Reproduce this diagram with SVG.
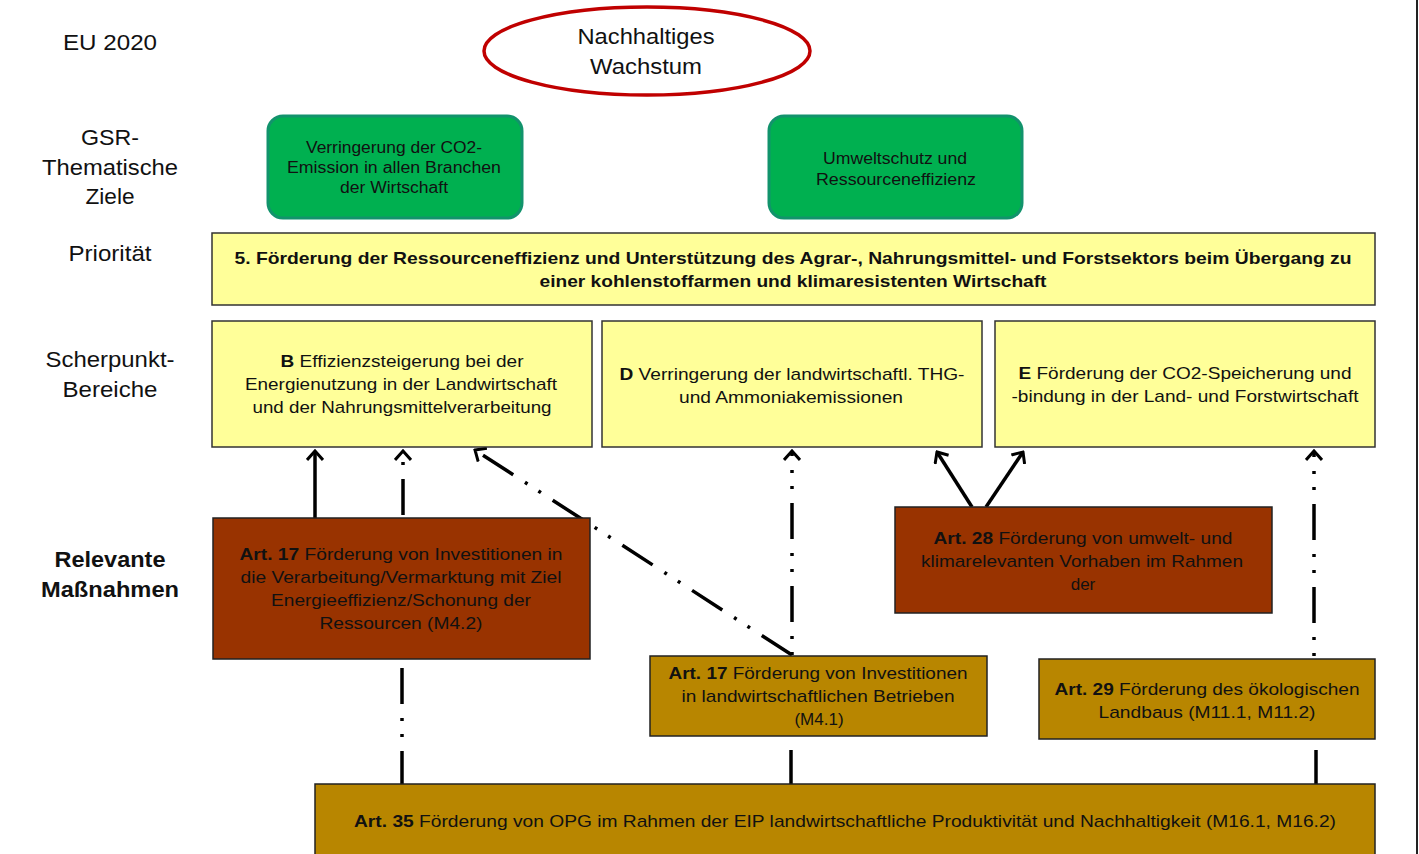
<svg xmlns="http://www.w3.org/2000/svg" width="1419" height="854" viewBox="0 0 1419 854">
<defs>
<style>
text{font-family:"Liberation Sans",Arial,sans-serif;fill:#111;text-anchor:middle}
.lbl{font-size:22px}
.lblb{font-size:22px;font-weight:bold}
.g{font-size:16px}
.t{font-size:17px}
.b{font-weight:bold}
.green{fill:#00b050;stroke:#12936c;stroke-width:3}
.yel{fill:#ffff99;stroke:#333;stroke-width:1.5}
.brown{fill:#993300;stroke:#222;stroke-width:1.5}
.gold{fill:#b88600;stroke:#222;stroke-width:1.5}
.c{fill:none;stroke:#000;stroke-width:3.5}
.dd{stroke-dasharray:36 14 3 13 3 14}
</style>
<marker id="ah" viewBox="0 0 12 18" refX="10" refY="9" markerWidth="12" markerHeight="18" markerUnits="userSpaceOnUse" orient="auto">
<path d="M1,1 L10,9 L1,17" fill="none" stroke="#000" stroke-width="3"/>
</marker>
</defs>
<rect width="1419" height="854" fill="#fff"/>
<line x1="1417" y1="0" x2="1417" y2="854" stroke="#222" stroke-width="2"/>

<g id="labels">
<text class="lbl" x="110" y="50" textLength="94" lengthAdjust="spacingAndGlyphs">EU  2020</text>
<text class="lbl" x="110" y="145" textLength="58" lengthAdjust="spacingAndGlyphs">GSR-</text>
<text class="lbl" x="110" y="175" textLength="136" lengthAdjust="spacingAndGlyphs">Thematische</text>
<text class="lbl" x="110" y="204" textLength="49" lengthAdjust="spacingAndGlyphs">Ziele</text>
<text class="lbl" x="110" y="261" textLength="83" lengthAdjust="spacingAndGlyphs">Priorität</text>
<text class="lbl" x="110" y="367" textLength="129" lengthAdjust="spacingAndGlyphs">Scherpunkt-</text>
<text class="lbl" x="110" y="397" textLength="95" lengthAdjust="spacingAndGlyphs">Bereiche</text>
<text class="lblb" x="110" y="567" textLength="111" lengthAdjust="spacingAndGlyphs">Relevante</text>
<text class="lblb" x="110" y="597" textLength="138" lengthAdjust="spacingAndGlyphs">Maßnahmen</text>
</g>

<g id="connectors">
<line class="c" x1="315" y1="518" x2="315" y2="451" marker-end="url(#ah)"/>
<line class="c dd" x1="403" y1="518" x2="403" y2="451" marker-end="url(#ah)" stroke-dashoffset="-3"/>
<line class="c dd" x1="792" y1="655" x2="475" y2="450" marker-end="url(#ah)"/>
<line class="c dd" x1="792" y1="655" x2="792" y2="451" marker-end="url(#ah)" stroke-dashoffset="50"/>
<line class="c" x1="972" y1="507" x2="937" y2="452" marker-end="url(#ah)"/>
<line class="c" x1="986" y1="507" x2="1023" y2="452" marker-end="url(#ah)"/>
<line class="c dd" x1="1314" y1="656" x2="1314" y2="451" marker-end="url(#ah)" stroke-dashoffset="50"/>
<line class="c dd" x1="402" y1="668" x2="402" y2="785"/>
<line class="c" x1="791" y1="750" x2="791" y2="785"/>
<line class="c" x1="1316" y1="750" x2="1316" y2="785"/>
</g>

<g id="eu2020">
<ellipse cx="647" cy="51" rx="163" ry="44" fill="#fff" stroke="#c00000" stroke-width="3.5"/>
<text x="646" y="44" style="font-size:22px" textLength="137" lengthAdjust="spacingAndGlyphs">Nachhaltiges</text>
<text x="646" y="74" style="font-size:22px" textLength="112" lengthAdjust="spacingAndGlyphs">Wachstum</text>
</g>

<g id="ziel1">
<rect class="green" x="268" y="116" width="254" height="102" rx="15"/>
<text class="g" x="394" y="153" textLength="176" lengthAdjust="spacingAndGlyphs">Verringerung der CO2-</text>
<text class="g" x="394" y="173" textLength="214" lengthAdjust="spacingAndGlyphs">Emission in allen Branchen</text>
<text class="g" x="394" y="193" textLength="108" lengthAdjust="spacingAndGlyphs">der Wirtschaft</text>
</g>
<g id="ziel2">
<rect class="green" x="769" y="116" width="253" height="102" rx="15"/>
<text class="g" x="895" y="164" textLength="144" lengthAdjust="spacingAndGlyphs">Umweltschutz und</text>
<text class="g" x="896" y="185" textLength="160" lengthAdjust="spacingAndGlyphs">Ressourceneffizienz</text>
</g>

<g id="prioritaet">
<rect class="yel" x="212" y="233" width="1163" height="72"/>
<text class="t b" x="793" y="264" textLength="1117" lengthAdjust="spacingAndGlyphs">5. Förderung der Ressourceneffizienz und Unterstützung  des Agrar-, Nahrungsmittel- und Forstsektors  beim Übergang zu</text>
<text class="t b" x="793" y="287" textLength="507" lengthAdjust="spacingAndGlyphs">einer kohlenstoffarmen und klimaresistenten Wirtschaft</text>
</g>

<g id="schwerpunktB">
<rect class="yel" x="212" y="321" width="380" height="126"/>
<text class="t" x="402" y="367" textLength="243" lengthAdjust="spacingAndGlyphs"><tspan class="b">B</tspan> Effizienzsteigerung  bei der</text>
<text class="t" x="401" y="390" textLength="312" lengthAdjust="spacingAndGlyphs">Energienutzung in der Landwirtschaft</text>
<text class="t" x="402" y="413" textLength="299" lengthAdjust="spacingAndGlyphs">und der Nahrungsmittelverarbeitung</text>
</g>
<g id="schwerpunktD">
<rect class="yel" x="602" y="321" width="380" height="126"/>
<text class="t" x="792" y="380" textLength="345" lengthAdjust="spacingAndGlyphs"><tspan class="b">D</tspan> Verringerung  der landwirtschaftl. THG-</text>
<text class="t" x="791" y="403" textLength="224" lengthAdjust="spacingAndGlyphs">und Ammoniakemissionen</text>
</g>
<g id="schwerpunktE">
<rect class="yel" x="995" y="321" width="380" height="126"/>
<text class="t" x="1185" y="379" textLength="333" lengthAdjust="spacingAndGlyphs"><tspan class="b">E</tspan> Förderung  der CO2-Speicherung  und</text>
<text class="t" x="1185" y="402" textLength="347" lengthAdjust="spacingAndGlyphs">-bindung in der Land- und Forstwirtschaft</text>
</g>

<g id="art17a">
<rect class="brown" x="213" y="518" width="377" height="141"/>
<text class="t" x="401" y="560" textLength="323" lengthAdjust="spacingAndGlyphs"><tspan class="b">Art. 17</tspan> Förderung  von  Investitionen  in</text>
<text class="t" x="401" y="583" textLength="321" lengthAdjust="spacingAndGlyphs">die Verarbeitung/Vermarktung  mit Ziel</text>
<text class="t" x="401" y="606" textLength="260" lengthAdjust="spacingAndGlyphs">Energieeffizienz/Schonung  der</text>
<text class="t" x="401" y="629" textLength="163" lengthAdjust="spacingAndGlyphs">Ressourcen (M4.2)</text>
</g>

<g id="art28">
<rect class="brown" x="895" y="507" width="377" height="106"/>
<text class="t" x="1083" y="544" textLength="299" lengthAdjust="spacingAndGlyphs"><tspan class="b">Art. 28</tspan> Förderung  von  umwelt- und</text>
<text class="t" x="1082" y="567" textLength="322" lengthAdjust="spacingAndGlyphs">klimarelevanten  Vorhaben  im Rahmen</text>
<text class="t" x="1083" y="590">der</text>
</g>

<g id="art17b">
<rect class="gold" x="650" y="656" width="337" height="80"/>
<text class="t" x="818" y="679" textLength="299" lengthAdjust="spacingAndGlyphs"><tspan class="b">Art. 17</tspan> Förderung  von  Investitionen</text>
<text class="t" x="818" y="702" textLength="273" lengthAdjust="spacingAndGlyphs">in landwirtschaftlichen  Betrieben</text>
<text class="t" x="819" y="725">(M4.1)</text>
</g>

<g id="art29">
<rect class="gold" x="1039" y="659" width="336" height="80"/>
<text class="t" x="1207" y="695" textLength="305" lengthAdjust="spacingAndGlyphs"><tspan class="b">Art. 29</tspan> Förderung  des ökologischen</text>
<text class="t" x="1207" y="718" textLength="217" lengthAdjust="spacingAndGlyphs">Landbaus  (M11.1, M11.2)</text>
</g>

<g id="art35">
<rect class="gold" x="315" y="784" width="1060" height="80"/>
<text class="t" x="845" y="827" textLength="982" lengthAdjust="spacingAndGlyphs"><tspan class="b">Art. 35</tspan> Förderung  von  OPG im Rahmen  der EIP landwirtschaftliche  Produktivität und Nachhaltigkeit (M16.1, M16.2)</text>
</g>
</svg>
